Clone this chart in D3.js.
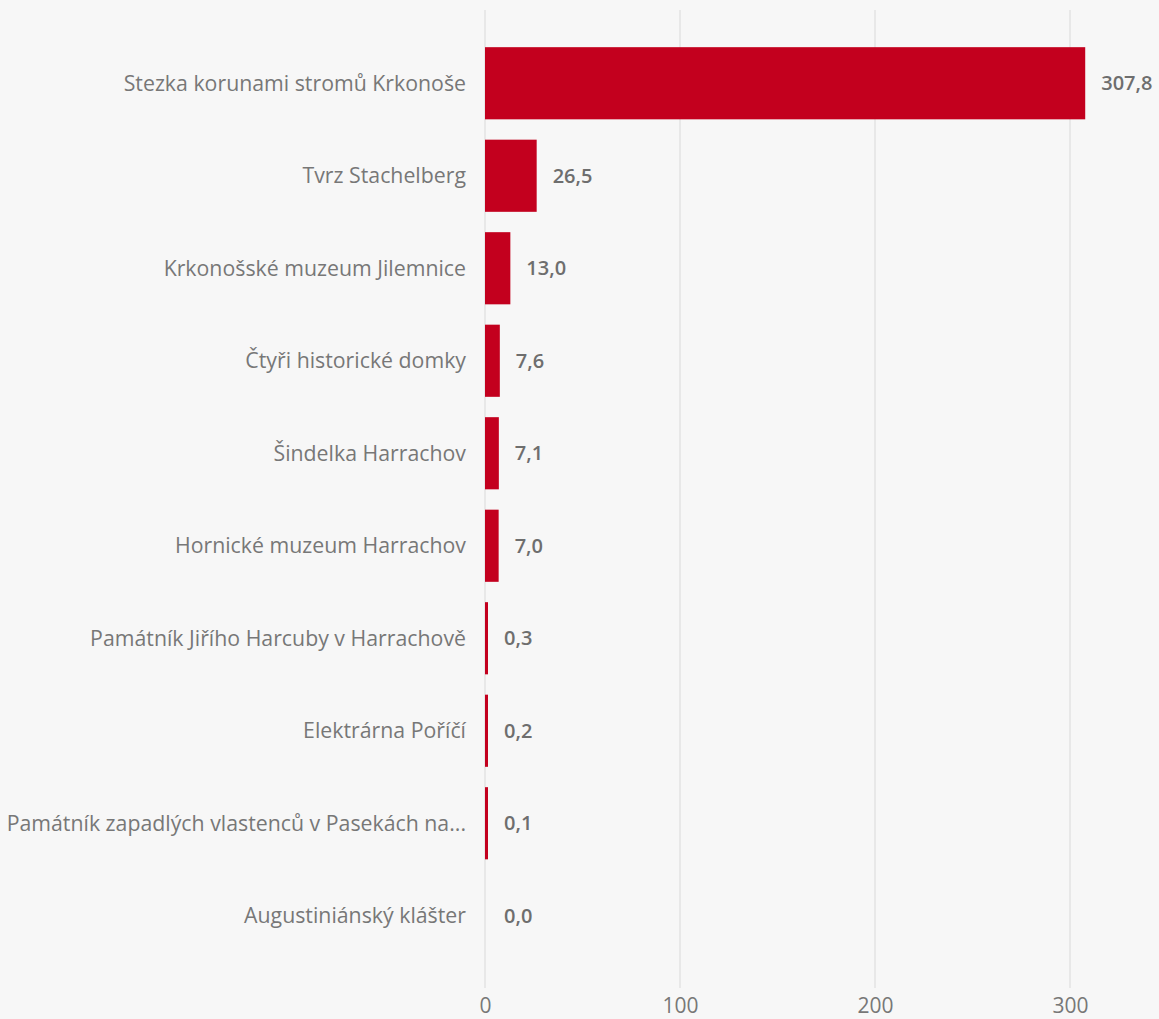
<!DOCTYPE html>
<html>
<head>
<meta charset="utf-8">
<script src="https://cdn.jsdelivr.net/npm/d3@7"></script>
<style>
  html, body { margin: 0; padding: 0; background: #f7f7f7; }
  svg { display: block; font-family: "Open Sans", "Noto Sans", sans-serif; }
</style>
</head>
<body>
<div id="chart-container"></div>
<script>
const categories = [
    "Stezka korunami stromů Krkonoše",
    "Tvrz Stachelberg",
    "Krkonošské muzeum Jilemnice",
    "Čtyři historické domky",
    "Šindelka Harrachov",
    "Hornické muzeum Harrachov",
    "Památník Jiřího Harcuby v Harrachově",
    "Elektrárna Poříčí",
    "Památník zapadlých vlastenců v Pasekách na...",
    "Augustiniánský klášter"
];
const values = [307.8, 26.5, 13.0, 7.6, 7.1, 7.0, 0.3, 0.2, 0.1, 0.0];
const xTicks = [0, 100, 200, 300];

const W = 1159, H = 1019;
const left = 485;

const data = categories.map((c, i) => ({ name: c, value: values[i] }));

const x = d3.scaleLinear().domain([0, 100]).range([left, left + 195]);
const y = d3.scaleBand()
    .domain(categories)
    .range([37, 962])
    .paddingInner(0.22)
    .paddingOuter(0.11);

const svg = d3.select("#chart-container")
    .append("svg")
    .attr("width", W)
    .attr("height", H);

svg.append("rect")
    .attr("width", W).attr("height", H)
    .attr("fill", "#f7f7f7");

// Siatka
svg.append("g")
    .selectAll("line")
    .data(xTicks)
    .join("line")
    .attr("x1", d => x(d)).attr("x2", d => x(d))
    .attr("y1", 10).attr("y2", 988)
    .attr("stroke", "#e8e8e8")
    .attr("stroke-width", 2);

// Oś X
const xAxis = svg.append("g")
    .attr("transform", "translate(0,1013)")
    .call(d3.axisBottom(x).tickValues(xTicks).tickSize(0).tickPadding(0));
xAxis.select(".domain").remove();
xAxis.selectAll("text")
    .attr("y", 0)
    .attr("dy", 0)
    .attr("font-size", 21)
    .attr("font-family", "'Open Sans', sans-serif")
    .attr("fill", "#777");

// Etykiety kategorii
svg.append("g")
    .selectAll("text")
    .data(data)
    .join("text")
    .attr("x", left - 19)
    .attr("y", d => y(d.name) + y.bandwidth() / 2)
    .attr("dy", "0.35em")
    .attr("text-anchor", "end")
    .attr("font-size", 21.3)
    .attr("fill", "#777")
    .text(d => d.name);

// Słupki
svg.append("g")
    .selectAll("rect")
    .data(data)
    .join("rect")
    .attr("x", x(0))
    .attr("y", d => y(d.name))
    .attr("width", d => d.value > 0 ? Math.max(x(d.value) - x(0), 3) : 0)
    .attr("height", y.bandwidth())
    .attr("fill", "#c3001e");

// Wartości
const fmt = v => v.toFixed(1).replace(".", ",");
svg.append("g")
    .selectAll("text")
    .data(data)
    .join("text")
    .attr("x", d => Math.max(x(d.value), x(0) + 3) + 16)
    .attr("y", d => y(d.name) + y.bandwidth() / 2)
    .attr("dy", "0.35em")
    .attr("font-size", 20)
    .attr("font-weight", 600)
    .attr("fill", "#6e6e6e")
    .text(d => fmt(d.value));
</script>
</body>
</html>
